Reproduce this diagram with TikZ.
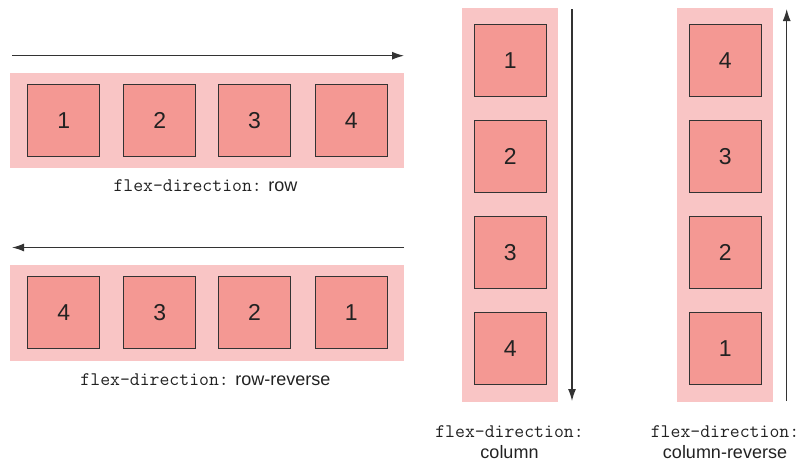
\documentclass[tikz,border=0pt]{standalone}
\usepackage{fontspec}
\setmainfont{Liberation Sans}
\usetikzlibrary{arrows.meta}
\definecolor{contfill}{HTML}{F9C5C5}
\definecolor{boxfill}{HTML}{F49893}
\definecolor{edge}{HTML}{333333}
\definecolor{txt}{HTML}{222222}
\newcommand{\fdmono}[1]{{\ttfamily\fontsize{19.2}{21}\selectfont #1}}
\begin{document}
\begin{tikzpicture}[x=1pt,y=-1pt,
  container/.style={fill=contfill,draw=none,inner sep=0pt},
  item/.style={draw=edge,line width=0.9pt,fill=boxfill,minimum size=72pt,inner sep=0pt,text=txt,font=\fontsize{23}{23}\selectfont},
  dirarrow/.style={draw=black!80,line width=1.2pt,-{Latex[length=12pt,width=8pt]}},
  caption/.style={font=\fontsize{18}{21}\selectfont,text=txt,align=center,inner sep=0pt}]
\useasboundingbox (0,0) rectangle (802,464);
% row
\path[container] (10,73) rectangle (404,168);
\node[item] (r1) at (63.7,120.3) {1};
\node[item] (r2) at (159.7,120.3) {2};
\node[item] (r3) at (254.5,120.3) {3};
\node[item] (r4) at (351.3,120.3) {4};
\coordinate (ra) at (12,55.7);
\coordinate (rb) at (404,55.7);
\draw[dirarrow] (ra) -- (rb);
\node[caption] (rl) at (205.5,186) {\fdmono{flex-direction:} row};
% row-reverse
\path[container] (10,265) rectangle (404,361);
\node[item] (q4) at (63.7,312.5) {4};
\node[item] (q3) at (159.7,312.5) {3};
\node[item] (q2) at (254.5,312.5) {2};
\node[item] (q1) at (351.3,312.5) {1};
\coordinate (qa) at (404,247.5);
\coordinate (qb) at (12,247.5);
\draw[dirarrow] (qa) -- (qb);
\node[caption] (ql) at (205.5,380) {\fdmono{flex-direction:} row-reverse};
% column
\path[container] (462,8) rectangle (557.7,401.7);
\node[item] (c1) at (510.2,60.5) {1};
\node[item] (c2) at (510.2,156.5) {2};
\node[item] (c3) at (510.2,252.5) {3};
\node[item] (c4) at (510.2,348.3) {4};
\coordinate (ca) at (572,9);
\coordinate (cb) at (572,401);
\draw[dirarrow] (ca) -- (cb);
\node[caption] (cl) at (509.5,442) {\fdmono{flex-direction:}\\column};
% column-reverse
\path[container] (677.3,8) rectangle (772.7,401.7);
\node[item] (d4) at (725.2,60.5) {4};
\node[item] (d3) at (725.2,156.5) {3};
\node[item] (d2) at (725.2,252.5) {2};
\node[item] (d1) at (725.2,348.3) {1};
\coordinate (da) at (786.7,401);
\coordinate (db) at (786.7,9);
\draw[dirarrow] (da) -- (db);
\node[caption] (dl) at (725,442) {\fdmono{flex-direction:}\\column-reverse};
\end{tikzpicture}
\end{document}
